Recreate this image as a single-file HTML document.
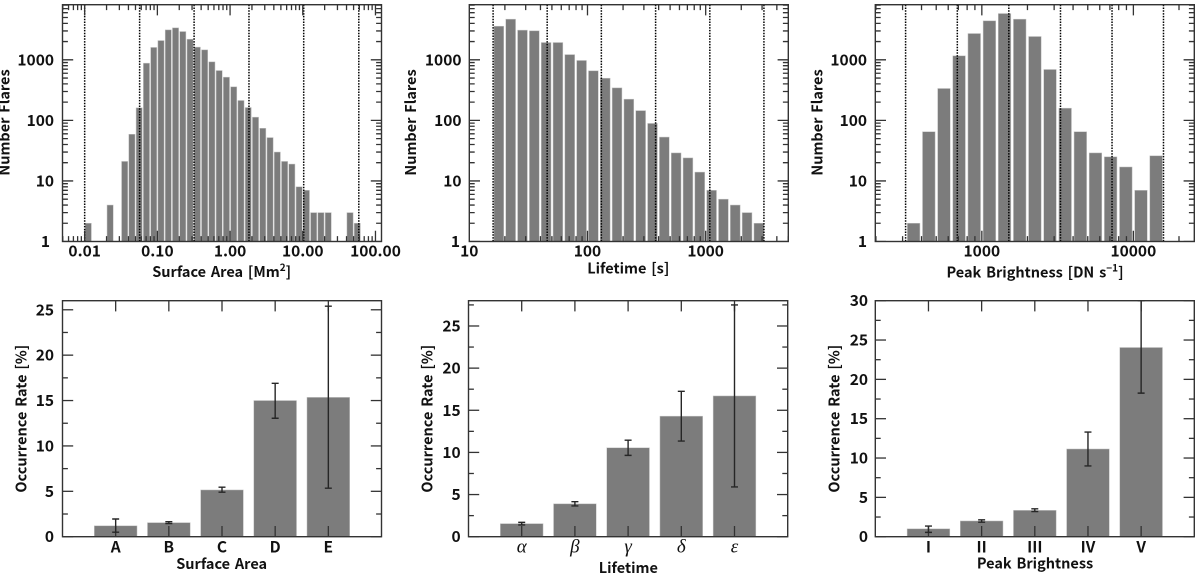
<!DOCTYPE html>
<html lang="en">
<head>
<meta charset="utf-8">
<title>Flare distributions and occurrence rates</title>
<style>
html,body{margin:0;padding:0;background:#fff;width:1200px;height:577px;overflow:hidden}
svg{display:block;filter:blur(0.3px)}
text{font-family:"Liberation Sans","Noto Sans CJK KR",sans-serif;fill:#111}
.t{font-family:"Noto Sans CJK KR","Liberation Sans",sans-serif;font-weight:700}
.w{word-spacing:1.5px}
.g{font-family:"Liberation Serif",serif;font-style:italic;font-weight:400}
</style>
</head>
<body>
<svg id="figure" xmlns="http://www.w3.org/2000/svg" width="1200" height="577" viewBox="0 0 1200 577"></svg>
<script>
// ---- Histogram data (bin centres are log10 of the axis quantity) ----
const areaBinLog = [-1.95,-1.65,-1.45,-1.35,-1.25,-1.15,-1.05,-0.95,-0.85,-0.75,-0.65,-0.55,-0.45,-0.35,-0.25,-0.15,-0.05,0.05,0.15,0.25,0.35,0.45,0.55,0.65,0.75,0.85,0.95,1.05,1.15,1.25,1.35,1.65,1.75];
const areaCounts = [2,4,21,59,161,880,1600,2080,3120,3370,2930,2190,1620,1460,925,665,517,358,213,163,113,74,52,30,21,19,8,7,3,3,3,3,2];
const areaEdges = [0.01,0.057,0.32,1.82,10.3,59];
const areaTickValues = [0.01,0.1,1,10,100];
const areaTickLabels = ['0.01','0.10','1.00','10.00','100.00'];

const lifeBinLog = [1.25,1.35,1.45,1.55,1.65,1.75,1.85,1.95,2.05,2.15,2.25,2.35,2.45,2.55,2.65,2.75,2.85,2.95,3.05,3.15,3.25,3.35,3.45];
const lifeCounts = [3590,4690,3090,3010,1930,1930,1220,975,658,497,344,224,145,89,53,29,24,14,7,5,4,3,2];
const lifeEdges = [15.9,45.6,131,377,1084,3110];
const lifeTickValues = [10,100,1000];
const lifeTickLabels = ['10','100','1000'];

const peakBinLog = [2.55,2.65,2.75,2.85,2.95,3.05,3.15,3.25,3.35,3.45,3.55,3.65,3.75,3.85,3.95,4.05,4.15];
const peakCounts = [2,65,336,1163,2717,4400,5810,4690,2425,692,159,65,29,25,17,7,26];
const peakEdges = [314,689,1507,3304,7230,15800];
const peakTickValues = [1000,10000];
const peakTickLabels = ['1000','10000'];

const countTickValues = [1,10,100,1000];
const countTickLabels = ['1','10','100','1000'];

// ---- Occurrence-rate data ----
const areaClasses = ['A','B','C','D','E'];
const areaRates = [1.2,1.55,5.15,15,15.35];
const areaRateLow = [0.5,1.45,4.9,13.05,5.35];
const areaRateHigh = [1.95,1.65,5.45,16.9,25.4];

const lifeClasses = ['α','β','γ','δ','ε'];
const lifeRates = [1.55,3.9,10.55,14.3,16.7];
const lifeRateLow = [1.4,3.65,9.65,11.35,5.9];
const lifeRateHigh = [1.7,4.15,11.45,17.25,27.5];

const peakClasses = ['I','II','III','IV','V'];
const peakRates = [1.0,2.0,3.35,11.15,24.05];
const peakRateLow = [0.55,1.85,3.2,9.0,18.25];
const peakRateHigh = [1.35,2.15,3.55,13.3,30];

const areaRateTicks = [0,5,10,15,20,25];
const lifeRateTicks = [0,5,10,15,20,25];
const peakRateTicks = [0,5,10,15,20,25,30];

// ---- Drawing helpers ----
const NS = 'http://www.w3.org/2000/svg';
const root = document.getElementById('figure');
const INK = '#333333';
let clipCount = 0;

function add(parent, tag, attrs, name) {
  const el = document.createElementNS(NS, tag);
  for (const k in attrs) el.setAttribute(k, attrs[k]);
  
  
  parent.appendChild(el);
  return el;
}
function group(parent, name) { return add(parent, 'g', {}, name); }
function line(parent, x1, y1, x2, y2, name, w, color) {
  return add(parent, 'line', {x1, y1, x2, y2, stroke: color || INK, 'stroke-width': w || 1.3}, name);
}
function label(parent, str, x, y, size, anchor, name, cls) {
  const el = add(parent, 'text', {x, y, 'font-size': size, 'text-anchor': anchor || 'middle', class: cls || 't'}, name);
  el.textContent = str;
  return el;
}
function axisTitle(parent, str, sup, x, y, name) {
  const el = label(parent, str, x, y, 14.5, 'middle', name, 't w');
  if (sup) {
    const s = add(el, 'tspan', {dy: -6, 'font-size': 10}, name + '-superscript');
    s.textContent = sup;
    const r = add(el, 'tspan', {dy: 6}, name + '-bracket');
    r.textContent = ']';
  }
  return el;
}
function yTitle(parent, str, x, y, name) {
  const el = label(parent, str, 0, 0, 14.5, 'middle', name, 't w');
  el.setAttribute('transform', 'translate(' + x + ',' + y + ') rotate(-90)');
  return el;
}
function frame(parent, box) {
  add(parent, 'rect', {x: box.l, y: box.t, width: box.r - box.l, height: box.b - box.t, fill: 'none', stroke: INK, 'stroke-width': 1.4}, 'plot-frame');
}
function clip(box) {
  const id = 'clip' + (++clipCount);
  const c = add(root, 'clipPath', {id}, 'plot-clip');
  add(c, 'rect', {x: box.l, y: box.t, width: box.r - box.l, height: box.b - box.t}, 'plot-clip-rect');
  return 'url(#' + id + ')';
}

// Log-log histogram panel
function histogram(o) {
  const g = group(root, o.name);
  const box = o.box;
  const x = v => box.l + (Math.log10(v) - o.xMinLog) / (o.xMaxLog - o.xMinLog) * (box.r - box.l);
  const xl = lg => box.l + (lg - o.xMinLog) / (o.xMaxLog - o.xMinLog) * (box.r - box.l);
  const y = v => box.b - Math.log10(v) / o.yMaxLog * (box.b - box.t);
  const cp = clip(box);

  const bars = group(g, 'histogram-bars');
  o.bins.forEach((b, i) => {
    const x0 = xl(b - o.barDex / 2), x1 = xl(b + o.barDex / 2), y0 = y(o.counts[i]);
    add(bars, 'rect', {x: x0, y: y0, width: x1 - x0, height: box.b - y0, fill: '#7c7c7c', stroke: '#c4c4c4', 'stroke-width': 0.5}, 'histogram-bar');
  });

  const edges = group(g, 'class-boundaries');
  o.edges.forEach(v => {
    add(edges, 'line', {x1: x(v), y1: box.t, x2: x(v), y2: box.b, stroke: '#000', 'stroke-width': 1.5, 'stroke-dasharray': '1.5 1.3'}, 'class-boundary-line');
  });

  const ticks = group(g, 'axis-ticks');
  ticks.setAttribute('clip-path', cp);
  const majors = 10.7, minors = 5.4;
  for (let d = Math.floor(o.xMinLog); d <= Math.ceil(o.xMaxLog); d++) {
    for (let m = 1; m < 10; m++) {
      const lg = d + Math.log10(m);
      if (lg < o.xMinLog || lg > o.xMaxLog) continue;
      const px = xl(lg), len = m === 1 ? majors : minors;
      line(ticks, px, box.b, px, box.b - len, 'x-tick-bottom');
      line(ticks, px, box.t, px, box.t + len, 'x-tick-top');
    }
  }
  for (let d = 0; d <= Math.ceil(o.yMaxLog); d++) {
    for (let m = 1; m < 10; m++) {
      const v = m * Math.pow(10, d);
      if (Math.log10(v) > o.yMaxLog) continue;
      const py = y(v), len = m === 1 ? majors : minors;
      line(ticks, box.l, py, box.l + len, py, 'y-tick-left');
      line(ticks, box.r, py, box.r - len, py, 'y-tick-right');
    }
  }
  frame(g, box);

  const tl = group(g, 'tick-labels');
  o.xTicks.forEach((v, i) => label(tl, o.xLabels[i], x(v), 256.7, 15.5, 'middle', 'x-tick-label'));
  countTickValues.forEach((v, i) => {
    const right = (v === 1) ? o.oneRight : o.yLabelRight;
    label(tl, countTickLabels[i], right, y(v) + 5.5, 15.5, 'end', 'y-tick-label');
  });
  yTitle(g, 'Number Flares', o.yTitleX, 122.5, 'y-axis-title');
  axisTitle(g, o.xTitle, o.xSup, o.xTitleX, o.xTitleY, 'x-axis-title');
}

// Occurrence-rate bar panel
function rates(o) {
  const g = group(root, o.name);
  const box = o.box;
  const x = i => box.l + (i + 1) / 6 * (box.r - box.l);
  const y = v => box.b - v / o.yMax * (box.b - box.t);
  const bw = 42.7;
  const cp = clip(box);

  const bars = group(g, 'rate-bars');
  o.values.forEach((v, i) => {
    add(bars, 'rect', {x: x(i) - bw / 2, y: y(v), width: bw, height: box.b - y(v), fill: '#7c7c7c', stroke: '#c4c4c4', 'stroke-width': 0.5}, 'rate-bar');
  });

  const ticks = group(g, 'axis-ticks');
  o.values.forEach((v, i) => {
    line(ticks, x(i), box.b, x(i), box.b - 10.7, 'x-tick-bottom');
    line(ticks, x(i), box.t, x(i), box.t + 10.7, 'x-tick-top');
  });
  for (let k = 0; k * 2.5 <= o.yMax; k++) {
    const py = y(k * 2.5), len = k % 2 === 0 ? 10.7 : 5.4;
    line(ticks, box.l, py, box.l + len, py, 'y-tick-left');
    line(ticks, box.r, py, box.r - len, py, 'y-tick-right');
  }

  const errs = group(g, 'error-bars');
  errs.setAttribute('clip-path', cp);
  o.values.forEach((v, i) => {
    const px = x(i);
    line(errs, px, y(o.low[i]), px, y(o.high[i]), 'error-bar-stem', 1.4, '#262626');
    line(errs, px - 3.5, y(o.low[i]), px + 3.5, y(o.low[i]), 'error-bar-cap-low', 1.4, '#262626');
    line(errs, px - 3.5, y(o.high[i]), px + 3.5, y(o.high[i]), 'error-bar-cap-high', 1.4, '#262626');
  });
  frame(g, box);

  const tl = group(g, 'tick-labels');
  o.yTicks.forEach(v => label(tl, String(v), o.yLabelRight, y(v) + 5.5, 15.5, 'end', 'y-tick-label'));
  o.classes.forEach((c, i) => {
    if (o.greek) label(tl, c, x(i), 552.5, 19, 'middle', 'x-category-label', 'g');
    else label(tl, c, x(i), 552.5, 15.5, 'middle', 'x-category-label');
  });
  yTitle(g, 'Occurrence Rate [%]', o.yTitleX, 418.7, 'y-axis-title');
  axisTitle(g, o.xTitle, null, o.xTitleX, o.xTitleY, 'x-axis-title');
}

// ---- Panels ----
histogram({name: 'surface-area-histogram', box: {l: 62.5, r: 381.5, t: 4.7, b: 241.5},
  xMinLog: -2.305, xMaxLog: 2.083, yMaxLog: 3.91, barDex: 0.085,
  bins: areaBinLog, counts: areaCounts, edges: areaEdges, xTicks: areaTickValues, xLabels: areaTickLabels,
  yLabelRight: 54, oneRight: 50, yTitleX: 9.5, xTitle: 'Surface Area [Mm', xSup: '2', xTitleX: 221.7, xTitleY: 277});

histogram({name: 'lifetime-histogram', box: {l: 469.3, r: 788.3, t: 4.7, b: 241.5},
  xMinLog: 1, xMaxLog: 3.699, yMaxLog: 3.91, barDex: 0.083,
  bins: lifeBinLog, counts: lifeCounts, edges: lifeEdges, xTicks: lifeTickValues, xLabels: lifeTickLabels,
  yLabelRight: 461.5, oneRight: 460, yTitleX: 416, xTitle: 'Lifetime [s]', xSup: null, xTitleX: 628.3, xTitleY: 273.5});

histogram({name: 'peak-brightness-histogram', box: {l: 875.3, r: 1194.3, t: 4.7, b: 241.5},
  xMinLog: 2.297, xMaxLog: 4.402, yMaxLog: 3.91, barDex: 0.083,
  bins: peakBinLog, counts: peakCounts, edges: peakEdges, xTicks: peakTickValues, xLabels: peakTickLabels,
  yLabelRight: 867, oneRight: 867, yTitleX: 822.7, xTitle: 'Peak Brightness [DN s', xSup: '−1', xTitleX: 1035, xTitleY: 277.3});

rates({name: 'surface-area-occurrence-rate', box: {l: 62.5, r: 381.5, t: 300.7, b: 536.7}, yMax: 26,
  values: areaRates, low: areaRateLow, high: areaRateHigh, classes: areaClasses, yTicks: areaRateTicks,
  yLabelRight: 54, yTitleX: 26.5, xTitle: 'Surface Area', xTitleX: 221.7, xTitleY: 569});

rates({name: 'lifetime-occurrence-rate', box: {l: 468.5, r: 787.7, t: 300.7, b: 536.7}, yMax: 28, greek: true,
  values: lifeRates, low: lifeRateLow, high: lifeRateHigh, classes: lifeClasses, yTicks: lifeRateTicks,
  yLabelRight: 460.7, yTitleX: 432.5, xTitle: 'Lifetime', xTitleX: 628.3, xTitleY: 573});

rates({name: 'peak-brightness-occurrence-rate', box: {l: 875.3, r: 1194.3, t: 300.7, b: 536.7}, yMax: 30,
  values: peakRates, low: peakRateLow, high: peakRateHigh, classes: peakClasses, yTicks: peakRateTicks,
  yLabelRight: 868, yTitleX: 839.5, xTitle: 'Peak Brightness', xTitleX: 1035, xTitleY: 568.7});
</script>
</body>
</html>
